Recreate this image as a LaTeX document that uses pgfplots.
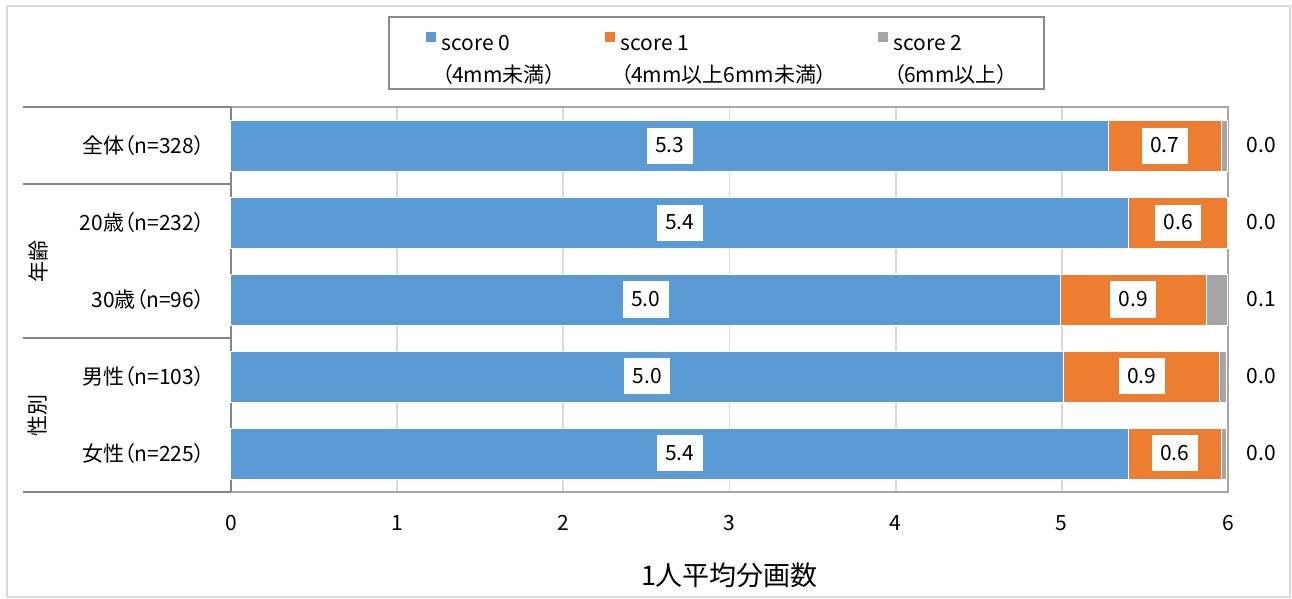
\documentclass[border=0pt]{standalone}
\usepackage{fontspec}
\setmainfont[RawFeature=+palt]{Noto Sans CJK JP}
\usepackage{pgfplots}
\usepackage{pgfplotstable}
\pgfplotsset{compat=1.18}
\definecolor{c0}{HTML}{5B9BD5}
\definecolor{c1}{HTML}{ED7D31}
\definecolor{c2}{HTML}{A5A5A5}
\definecolor{axisgray}{HTML}{868686}
\definecolor{boxgray}{HTML}{A6A6A6}
\definecolor{gridgray}{HTML}{D9D9D9}
\newcommand\fs{\fontsize{10.5}{12.6}\selectfont}
\newcommand\legtext[3]{\parbox[c][30.5pt][t]{#1}{\fontsize{10.5}{16}\selectfont #2\\#3}}

\pgfplotstableread{
y s0 s1 s2
0 5.28 0.68 0.04
1 5.40 0.60 0.004
2 4.99 0.88 0.13
3 5.01 0.94 0.04
4 5.40 0.56 0.03
}\datatab

% label positions (segment centres) and values
\pgfplotstableread{
x y lbl
2.64 0 5.3
2.70 1 5.4
2.495 2 5.0
2.505 3 5.0
2.70 4 5.4
5.62 0 0.7
5.70 1 0.6
5.43 2 0.9
5.48 3 0.9
5.68 4 0.6
}\boxtab

\pgfplotstableread{
x y lbl
6.2 0 0.0
6.2 1 0.0
6.2 2 0.1
6.2 3 0.0
6.2 4 0.0
}\graytab

\begin{document}
\begin{tikzpicture}
\pgfplotsset{
  common/.style={
    width=498.5pt, height=192.5pt, scale only axis,
    xmin=0, xmax=6, ymin=-0.5, ymax=4.5, y dir=reverse,
    at={(0pt,0pt)}, anchor=south west,
  }
}
\path (-115.5pt,-53.5pt) rectangle (530.5pt,246pt);
\draw[gridgray, line width=1pt] (-112pt,-52.5pt) rectangle (529.5pt,243pt);
\begin{axis}[common, clip=false,
  xbar stacked, bar width=25.5pt,
  axis line style={draw=boxgray, line width=0.9pt},
  xtick={0,...,6}, ytick={0,...,4},
  yticklabels={全体（n=328）, 20歳（n=232）, 30歳（n=96）, 男性（n=103）, 女性（n=225）},
  major tick length=0pt,
  xmajorgrids, grid style={draw=gridgray, line width=0.9pt},
  tick label style={font=\fs},
  /pgf/number format/assume math mode=true,
  xticklabel style={anchor=center, inner sep=0pt, yshift=-15.5pt},
  yticklabel style={anchor=east, inner sep=0pt, xshift=-13pt},
  xlabel={1人平均分画数},
  xlabel style={font=\fontsize{13.5}{16}\selectfont, at={(axis description cs:0.5,0)}, anchor=center, yshift=-41.5pt},
  legend columns=3,
  legend cell align=left,
  legend style={at={(0.15747,1.23636)}, anchor=north west, draw=black!45, line width=0.8pt,
    inner xsep=18.5pt, inner ysep=7.5pt, font=\fs,
    nodes={inner sep=0pt},
    /tikz/every even column/.append style={column sep=10pt},
    /tikz/every odd column/.append style={column sep=3pt}},
  legend image code/.code={\fill[#1, draw=none] (0pt,6.5pt) rectangle (5pt,11.5pt);},
]
\addplot[fill=c0, draw=white, line width=0.5pt] table[x=s0, y=y] \datatab;
\addlegendentry{\legtext{71.5pt}{score 0}{（4mm未満）}}
\addplot[fill=c1, draw=white, line width=0.5pt] table[x=s1, y=y] \datatab;
\addlegendentry{\legtext{118.5pt}{score 1}{（4mm以上6mm未満）}}
\addplot[fill=c2, draw=white, line width=0.5pt] table[x=s2, y=y] \datatab;
\addlegendentry{\legtext{56.5pt}{score 2}{（6mm以上）}}
\draw[axisgray, line width=1pt] (axis cs:0,-0.5) -- (axis cs:0,4.5);
\draw[axisgray, line width=1pt] (axis cs:0,-0.5) -- ++(-104pt,0pt);
\draw[axisgray, line width=1pt] (axis cs:0,0.5) -- ++(-104pt,0pt);
\draw[axisgray, line width=1pt] (axis cs:0,2.5) -- ++(-104pt,0pt);
\draw[axisgray, line width=1pt] (axis cs:0,4.5) -- ++(-104pt,0pt);
\node[rotate=90, font=\fs] at ([xshift=-96.5pt]axis cs:0,1.5) {年齢};
\node[rotate=90, font=\fs] at ([xshift=-96.5pt]axis cs:0,3.5) {性別};
\end{axis}
\begin{axis}[common, hide axis, clip=false]
\addplot[only marks, mark=none, nodes near coords, point meta=explicit symbolic,
  every node near coord/.append style={anchor=center, fill=white, font=\fs,
    inner sep=0pt, minimum width=23pt, minimum height=18pt}]
  table[x=x, y=y, meta=lbl] \boxtab;
\addplot[only marks, mark=none, nodes near coords, point meta=explicit symbolic,
  every node near coord/.append style={anchor=center, font=\fs, inner sep=0pt}]
  table[x=x, y=y, meta=lbl] \graytab;
\end{axis}
\end{tikzpicture}
\end{document}
